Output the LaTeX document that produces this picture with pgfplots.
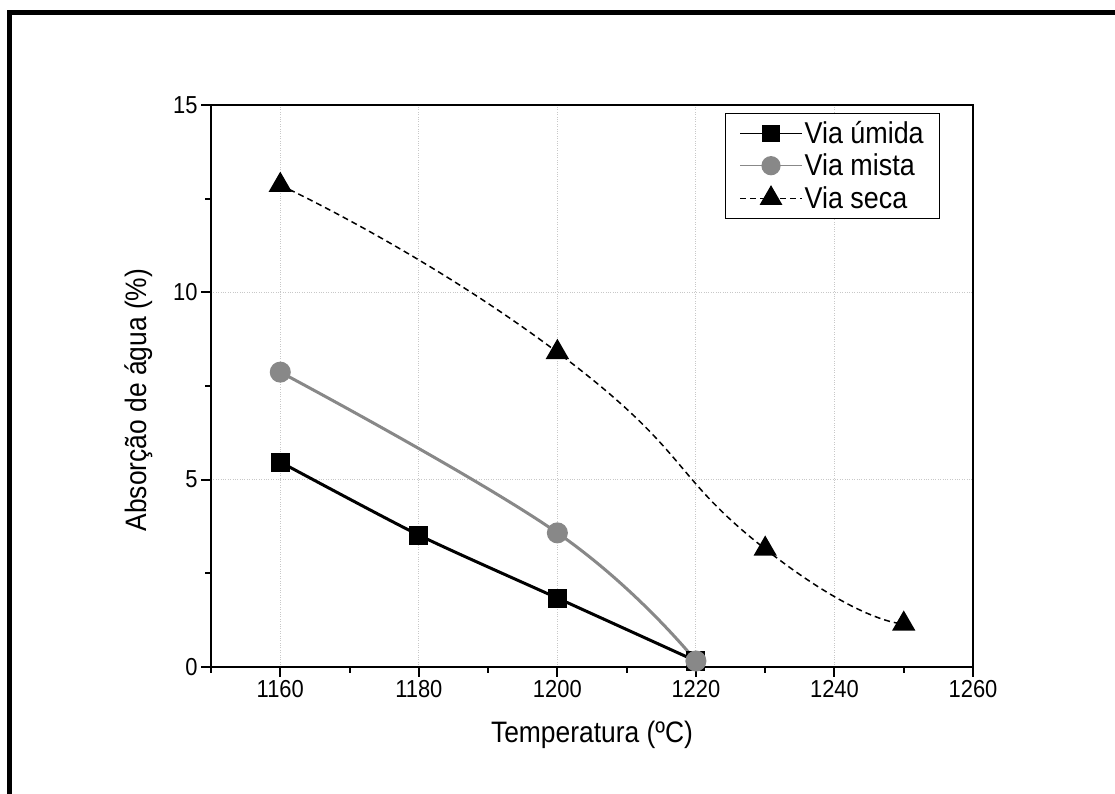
\documentclass[border=0pt]{standalone}
\usepackage{fontspec}
\setmainfont{Liberation Sans}
\usepackage{pgfplots}
\pgfplotsset{compat=1.18}
\definecolor{mygray}{HTML}{888888}
\definecolor{gridgray}{HTML}{C8C8C8}
\newcommand{\st}[1]{\scalebox{1}[1.12]{#1}}
\begin{document}
\begin{tikzpicture}[x=1bp,y=1bp]
\path[use as bounding box] (0,0) rectangle (1115,794);
\draw[line width=4.5bp] (9.5,-30) -- (9.5,781.5) -- (1150,781.5);
\begin{axis}[
  at={(211bp,127bp)}, anchor=south west,
  scale only axis, width=762bp, height=562bp,
  xmin=1150, xmax=1260, ymin=0, ymax=15,
  xtick={1160,1180,...,1260}, ytick={0,5,10,15},
  minor xtick={1150,1170,...,1250}, minor ytick={2.5,7.5,12.5},
  tick align=outside, tick pos=left,
  axis line style={line width=2bp},
  major tick length=10bp, minor tick length=6bp,
  tick style={black, line width=2bp},
  grid=major, major grid style={dotted, gridgray, line width=1bp},
  ticklabel style={font=\fontsize{22}{26}\selectfont},
  xticklabel={\st{\pgfmathprintnumber{\tick}}},
  yticklabel={\st{\pgfmathprintnumber{\tick}}},
  /pgf/number format/1000 sep={}, /pgf/number format/assume math mode=true,
  xlabel={\st{Temperatura (ºC)}}, ylabel={\st{Absorção de água (\%)}},
  label style={font=\fontsize{26.5}{32}\selectfont},
  xlabel style={at={(axis description cs:0.5,-0.121)}, anchor=center},
  ylabel style={at={(axis description cs:-0.095,0.475)}, anchor=center},
  legend style={at={(rel axis cs:0.957,0.986)}, anchor=north east, draw=black, line width=1bp,
    font=\fontsize{27}{32}\selectfont, inner xsep=14bp, inner ysep=8bp, row sep=9bp,
    nodes={inner xsep=2bp, inner ysep=0bp}},
  legend cell align=left,
  legend image code/.code={\draw[mark repeat=2,mark phase=2,line width=1.2bp] plot coordinates {(0bp,0bp)(31bp,0bp)(62bp,0bp)};},
]
\addplot[black, line width=3bp, smooth, tension=0.4, mark=square*, mark size=8bp, mark options={solid}]
  coordinates {(1160,5.47) (1180,3.52) (1200,1.84) (1220,0.16)};
\addlegendentry{\st{Via úmida}}
\addplot[mygray, line width=3bp, smooth, tension=0.7, mark=*, mark size=9bp, mark options={solid, fill=mygray}]
  coordinates {(1160,7.87) (1200,3.58) (1220,0.16)};
\addlegendentry{\st{Via mista}}
\addplot[black, line width=1.5bp, dash pattern=on 6bp off 4bp, smooth, tension=1, mark=triangle*, mark size=12bp, mark options={solid}]
  coordinates {(1160,12.86) (1200,8.40) (1230,3.15) (1250,1.15)};
\addlegendentry{\st{Via seca}}
\end{axis}
\end{tikzpicture}
\end{document}
